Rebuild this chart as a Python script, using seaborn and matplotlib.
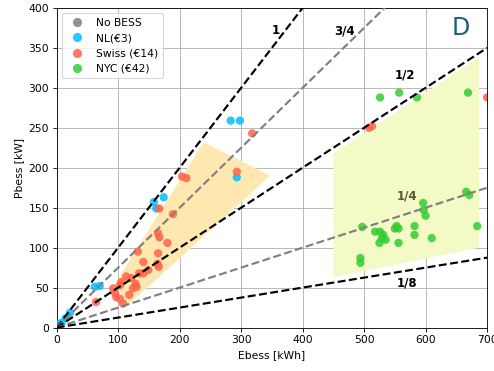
import numpy as np
import pandas as pd
import matplotlib
matplotlib.use("Agg")
import matplotlib.pyplot as plt
import seaborn as sns

# ---- data ----
nobess_e = [0, 1]
nobess_p = [0, 1]
nl_e = [2.6, 8, 15, 21.6, 62, 70, 158, 162, 174, 283, 298, 293]
nl_p = [4.4, 6, 12, 18.5, 51, 52, 157, 149, 163, 259, 259, 188]
swiss_e = [64, 92, 95, 97, 103, 108, 103, 105, 113, 121, 118, 124, 128, 130, 134, 141,
           141, 149, 164, 166, 132, 165, 180, 165, 167, 189, 167, 204, 211, 293, 318,
           508, 513, 700]
swiss_p = [32, 49, 43, 38, 36, 30, 53, 57, 64, 62, 41, 49, 55, 51, 68, 68,
           82, 72, 80, 76, 95, 93, 106, 118, 113, 142, 149, 189, 187, 195, 243,
           250, 252, 288]
nyc_e = [494, 494, 497, 518, 526, 531, 529, 525, 535, 550, 553, 556, 556, 582, 582,
         596, 597, 600, 610, 684, 666, 671, 526, 557, 586, 669]
nyc_p = [87, 81, 126, 120, 120, 116, 112, 106, 110, 124, 127, 124, 106, 127, 116,
         156, 147, 140, 112, 127, 170, 166, 288, 294, 288, 294]
groups = ["No BESS", "NL(€3)", "Swiss (€14)", "NYC (€42)"]
colors = ["gray", "#00bfff", "#ff6347", "#32cd32"]

ratios = [1, 0.75, 0.5, 0.25, 0.125]
ratio_labels = ["1", "3/4", "1/2", "1/4", "1/8"]
ratio_colors = ["black", "gray", "black", "gray", "black"]

swiss_zone_e = [95, 239, 347, 116]
swiss_zone_p = [55, 232, 190, 28]
nyc_zone_e = [450, 687, 687, 450]
nyc_zone_p = [218, 338, 100, 63]

xticks = [0, 100, 200, 300, 400, 500, 600, 700]
yticks = [0, 50, 100, 150, 200, 250, 300, 350, 400]

# ---- build frame ----
frames = []
for g, e, p in zip(groups, [nobess_e, nl_e, swiss_e, nyc_e],
                   [nobess_p, nl_p, swiss_p, nyc_p]):
    frames.append(pd.DataFrame({"Ebess": e, "Pbess": p, "group": g}))
df = pd.concat(frames, ignore_index=True)

fig = plt.figure(figsize=(6.4, 4.8), dpi=77.34)
ax = fig.add_axes([0.1145, 0.117, 0.8695, 0.861])

ax.fill(swiss_zone_e, swiss_zone_p, color="#ffe8b0", lw=0, zorder=1)
ax.fill(nyc_zone_e, nyc_zone_p, color="#f3fac6", lw=0, zorder=1)

sns.scatterplot(data=df, x="Ebess", y="Pbess", hue="group", hue_order=groups,
                palette=dict(zip(groups, colors)), s=60, linewidth=0,
                alpha=0.85, ax=ax, zorder=3)

xs = np.array([0, 700])
for r, c in zip(ratios, ratio_colors):
    ax.plot(xs, r * xs, ls="--", color=c, lw=2, zorder=4)

label_pos = [(357, 372), (468, 372), (566, 316), (569, 165), (569, 56)]
label_cols = ["black", "black", "black", "#5a5a32", "black"]
for (x, y), t, c in zip(label_pos, ratio_labels, label_cols):
    ax.text(x, y, t, fontsize=11, fontweight="bold", color=c,
            ha="center", va="center", zorder=5)

ax.text(658, 375, "D", fontsize=22, color="#17607f", ha="center", va="center")

ax.set_xlim(0, 700)
ax.set_ylim(0, 400)
ax.set_xticks(xticks)
ax.set_yticks(yticks)
ax.set_xlabel("Ebess [kWh]")
ax.set_ylabel("Pbess [kW]")
ax.grid(True, color="#b0b0b0", lw=0.8, zorder=0)
ax.set_axisbelow(True)
leg = ax.legend(loc="upper left", title=None, markerscale=1.1)

fig.savefig("out.png", dpi=77.34)
